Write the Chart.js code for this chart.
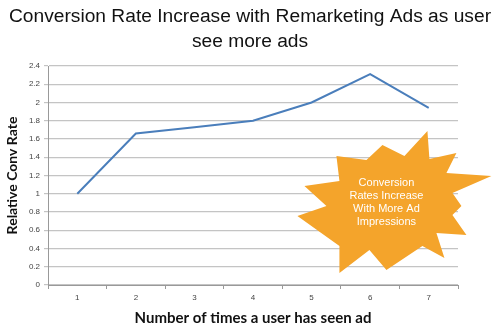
<!DOCTYPE html>
<html>
<head>
<meta charset="utf-8">
<script src="https://cdn.jsdelivr.net/npm/chart.js@4/dist/chart.umd.min.js"></script>
<style>
  html, body { margin: 0; padding: 0; background: #fff; }
  #wrap { width: 500px; height: 331px; }
</style>
</head>
<body>
<div id="wrap"><canvas id="chart"></canvas></div>
<script>
// chart data
const titleLines = ["Conversion Rate Increase with Remarketing Ads as user", "see more ads"];
const impressions = ["1", "2", "3", "4", "5", "6", "7"];
const convRate = [1.0, 1.66, 1.73, 1.8, 2.0, 2.31, 1.94];
const burstText = ["Conversion", "Rates Increase", "With More Ad", "Impressions"];

// starburst outline, offsets in px from its centre
const burstShape = [
  [41, -72], [43, -44], [70, -50], [60, -30], [105, -27], [66, -10], [75, 3], [66, 12],
  [80, 32], [50, 30], [58, 55], [36, 43], [0, 67], [-17, 47], [-47, 70], [-47, 43],
  [-89, 13], [-60, 3], [-82, -17], [-47, -22], [-50, -47], [-20, -43], [-4, -58], [18, -47]
];

// title centred on the whole canvas (chart title would centre on the padded box)
const titlePlugin = {
  id: "pageTitle",
  afterDraw(chart) {
    const ctx = chart.ctx;
    ctx.save();
    ctx.fillStyle = "#111";
    ctx.font = "19.2px 'Liberation Sans', Arial, sans-serif";
    ctx.textAlign = "center";
    ctx.textBaseline = "middle";
    titleLines.forEach((t, i) => ctx.fillText(t, chart.width / 2, 17 + i * 25));
    ctx.restore();
  }
};

// draws the orange callout over the plot
const burstPlugin = {
  id: "burst",
  afterDatasetsDraw(chart) {
    const ctx = chart.ctx;
    const xs = chart.scales.x, ys = chart.scales.y;
    const cx = (xs.getPixelForValue(5) + xs.getPixelForValue(6)) / 2 - 13;
    const cy = ys.getPixelForValue(0.9);
    ctx.save();
    ctx.beginPath();
    burstShape.forEach(([dx, dy], i) => {
      if (i === 0) ctx.moveTo(cx + dx, cy + dy);
      else ctx.lineTo(cx + dx, cy + dy);
    });
    ctx.closePath();
    ctx.fillStyle = "#f4a42b";
    ctx.fill();
    ctx.fillStyle = "#ffffff";
    ctx.font = "11px 'Liberation Sans', Arial, sans-serif";
    ctx.textAlign = "center";
    ctx.textBaseline = "middle";
    burstText.forEach((t, i) => ctx.fillText(t, cx, cy - 20 + i * 13));
    ctx.restore();
  }
};

function fmt(v) {
  return String(+Number(v).toFixed(1));
}

document.addEventListener("DOMContentLoaded", () => {
  const ctx = document.getElementById("chart").getContext("2d");
  new Chart(ctx, {
    type: "line",
    data: {
      labels: impressions,
      datasets: [{
        data: convRate,
        borderColor: "#4a7ebb",
        borderWidth: 2,
        pointRadius: 0,
        tension: 0,
        fill: false
      }]
    },
    options: {
      responsive: true,
      maintainAspectRatio: false,
      animation: false,
      layout: { padding: { left: 0, right: 42, top: 66, bottom: 0 } },
      plugins: {
        legend: { display: false },
        tooltip: { enabled: false },
        title: { display: false }
      },
      scales: {
        x: {
          offset: true,
          grid: { display: true, drawOnChartArea: false, offset: true, tickLength: 4, color: "#999" },
          border: { color: "#999" },
          ticks: { color: "#444", font: { size: 8 }, padding: 4 },
          title: {
            display: true,
            text: "Number of times a user has seen ad",
            color: "#111",
            font: { family: "Lato, 'Open Sans', sans-serif", size: 15, weight: "bold" },
            padding: { top: 2 }
          },
          afterFit(scale) { scale.height = 46; }
        },
        y: {
          min: 0,
          max: 2.4,
          ticks: { stepSize: 0.2, color: "#444", font: { size: 8 }, padding: 4, callback: fmt },
          grid: { color: "#c4c4c4", tickLength: 4, lineWidth: 1.2 },
          border: { color: "#999" },
          title: {
            display: true,
            text: "Relative Conv Rate",
            color: "#111",
            font: { family: "Lato, 'Open Sans', sans-serif", size: 14, weight: "bold" },
            padding: { bottom: 2 }
          },
          afterFit(scale) { scale.width = 48; }
        }
      }
    },
    plugins: [burstPlugin, titlePlugin]
  });
});
</script>
</body>
</html>
